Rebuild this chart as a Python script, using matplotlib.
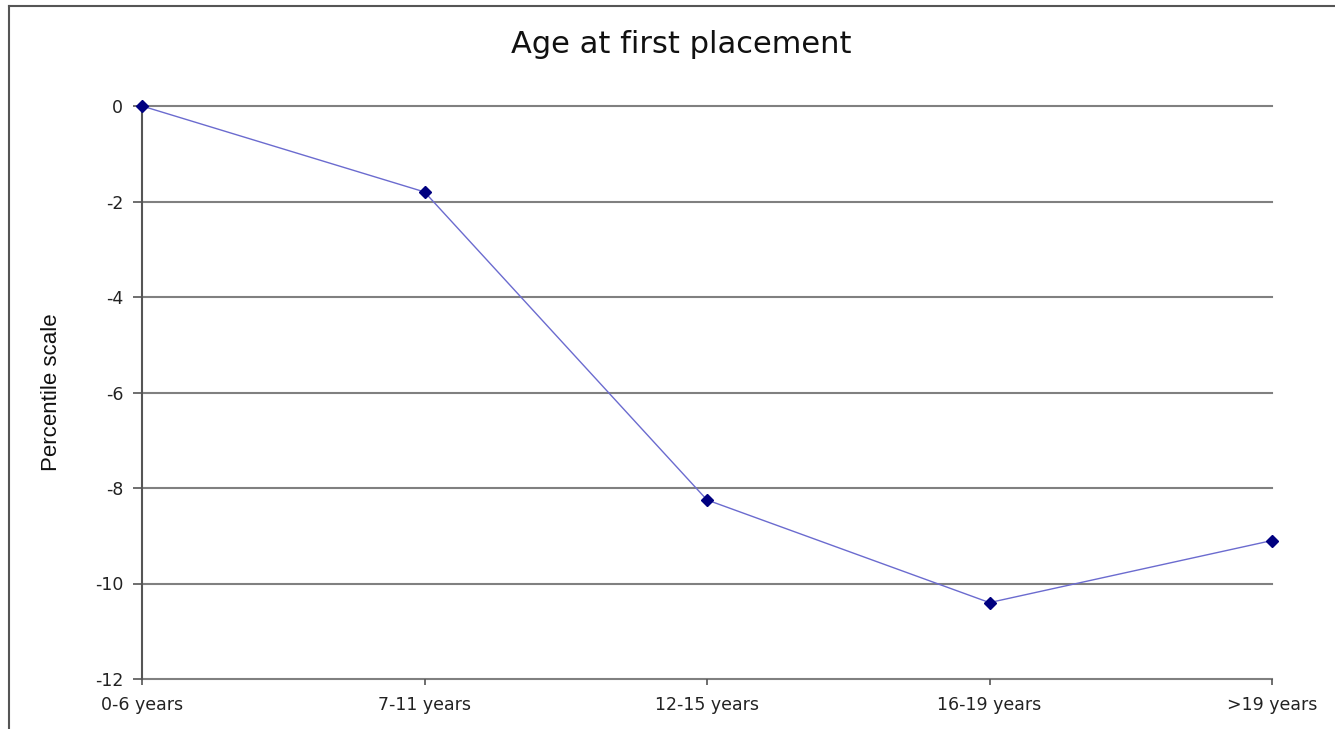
import matplotlib
matplotlib.use("Agg")
import matplotlib.pyplot as plt
from matplotlib.lines import Line2D

categories = ["0-6 years", "7-11 years", "12-15 years", "16-19 years", ">19 years"]
values = [0.0, -1.8, -8.25, -10.4, -9.1]
yticks = [0, -2, -4, -6, -8, -10, -12]

W, H = 1335, 729
fig = plt.figure(figsize=(W / 100, H / 100), dpi=100)
fig.patch.set_facecolor("white")
ax = fig.add_axes([142 / W, 1 - 679 / H, (1272 - 142) / W, (679 - 106) / H])

x = list(range(len(categories)))
ax.plot(x, values, color="#6b6bcf", lw=1.0, zorder=3, clip_on=False)
ax.plot(x, values, ls="none", marker="D", ms=6, color="#000080", zorder=4, clip_on=False)

ax.set_xlim(0, len(categories) - 1)
ax.set_ylim(-12, 0)
ax.set_yticks(yticks)
ax.set_yticklabels([str(v) for v in yticks])
ax.set_xticks(x)
ax.set_xticklabels(categories)

for v in yticks:
    ax.axhline(v, color="#808080", lw=1.5, zorder=1, clip_on=False)

for s in ["top", "right", "bottom"]:
    ax.spines[s].set_visible(False)
ax.spines["left"].set_color("#555555")
ax.spines["left"].set_linewidth(1.5)
ax.spines["left"].set_zorder(2)
ax.tick_params(axis="y", length=6.5, width=1.2, color="#555555", labelsize=12.5,
               labelcolor="#222222", pad=7)
ax.tick_params(axis="x", length=4, width=1.2, color="#555555", labelsize=12.5,
               labelcolor="#222222", pad=8)
for lab in ax.get_xticklabels() + ax.get_yticklabels():
    lab.set_family("DejaVu Sans")

fig.text(681 / W, 1 - 53 / H, "Age at first placement", fontsize=22, family="DejaVu Sans",
         ha="center", va="baseline", color="#111111")
ax.set_ylabel("Percentile scale", fontsize=16, family="Liberation Sans", color="#111111")
ax.yaxis.set_label_coords((62 - 142) / 1130, 0.5)

# outer frame lines
fig.add_artist(Line2D([9 / W, 9 / W], [0, 1 - 6 / H], transform=fig.transFigure, color="#555555", lw=1.5))
fig.add_artist(Line2D([9 / W, 1], [1 - 6 / H, 1 - 6 / H], transform=fig.transFigure, color="#555555", lw=1.5))

fig.savefig("out.png", dpi=100)
